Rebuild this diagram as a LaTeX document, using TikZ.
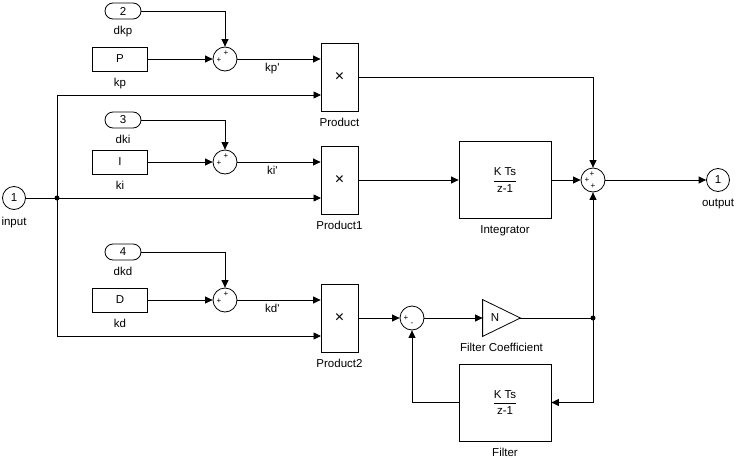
\documentclass[tikz,border=0pt]{standalone}
\usepackage{fontspec}
\setmainfont{Liberation Sans}
\usepackage{amsmath}
\usetikzlibrary{arrows.meta}

\begin{document}
\begin{tikzpicture}[x=1pt,y=-1pt,line width=0.8pt,
        >={Triangle[length=7.5pt,width=7pt]},
        every node/.style={font=\fontsize{11.5}{13}\selectfont},
        every label/.style={inner sep=0pt},
        label distance=6.5pt,
        blk/.style={draw,inner sep=0pt,minimum width=55,minimum height=24},
        prodblk/.style={draw,inner sep=0pt,minimum width=37,minimum height=68,font=\fontsize{16}{16}\selectfont},
        tfblk/.style={draw,inner sep=0pt,minimum width=92,minimum height=77},
        port/.style={draw,rounded corners=8pt,inner sep=0pt,minimum width=36,minimum height=16},
        io/.style={draw,circle,inner sep=0pt,minimum size=23},
        sumc/.style={draw,circle,inner sep=0pt,minimum size=24},
        sgn/.style={font=\fontsize{8}{8}\selectfont,inner sep=0pt}]
    \useasboundingbox (0,0) rectangle (737,458);

    \node[io,label=below:input] (in1) at (14,198) {1};
    \coordinate (junc) at (57,198);
    \draw (in1) -- (junc);
    \fill (junc) circle (2.5);

    % gain rows
    \foreach \i/\c/\g/\y/\dy/\pn in {p/P/2/59/48/Product, i/I/3/162/42/Product1, d/D/4/300/48/Product2} {
        \node[port,label=below:dk\i] (dk\i) at (123,\y-\dy) {\g};
        \node[blk,label=below:k\i] (k\i) at (120,\y) {\c};
        \node[sumc] (s\i) at (225,\y) {};
        \node[sgn] (s\i a) at (219,\y+1) {+};
        \node[sgn] (s\i b) at (226,\y-6) {+};
        \node[prodblk,label={[font=\fontsize{11.5}{13}\selectfont]below:\pn}] (prod\i) at (339.5,\y+18) {×};
        \coordinate (in\i) at (321,\y+36);
        \draw [->] (k\i) -- (s\i);
        \draw [->] (dk\i) -| (s\i);
        \draw [->] (s\i) -- node[below,pos=0.42]{k\i\textquotesingle} (prod\i.west |- s\i);
        \draw [->] (junc) |- (in\i);
    }

    \node[tfblk,label=below:Integrator] (integ) at (505,180) {$\dfrac{\text{K Ts}}{\text{z-1}}$};
    \node[sumc] (sumo) at (593,180) {};
    \node[sgn] (sumo a) at (592,174) {+};
    \node[sgn] (sumo b) at (587,180) {+};
    \node[sgn] (sumo c) at (593,186) {+};
    \node[io,label=below:output] (out1) at (718,180) {1};

    \node[sumc] (sumf) at (412,318) {};
    \node[sgn] (sumf a) at (406,318) {+};
    \node[sgn] (sumf b) at (412,324) {-};
    \node[inner sep=0pt,minimum width=37,minimum height=36,label=below:Filter Coefficient] (gain) at (501.5,318) {};
    \draw (gain.north west) -- (gain.east) -- (gain.south west) -- cycle;
    \node (gainN) at (495,318) {N};
    \coordinate (junc2) at (593,318);
    \node[tfblk,label=below:Filter] (filt) at (505,402.5) {$\dfrac{\text{K Ts}}{\text{z-1}}$};

    \draw [->] (prodp) -| (sumo);
    \draw [->] (prodi) -- (integ);
    \draw [->] (integ) -- (sumo);
    \draw [->] (sumo) -- (out1);
    \draw [->] (prodd) -- (sumf);
    \draw [->] (sumf) -- (gain);
    \draw (gain) -- (junc2);
    \fill (junc2) circle (2.5);
    \draw [->] (junc2) -- (sumo);
    \draw [->] (junc2) |- (filt);
    \draw [->] (filt) -| (sumf);
\end{tikzpicture}
\end{document}
